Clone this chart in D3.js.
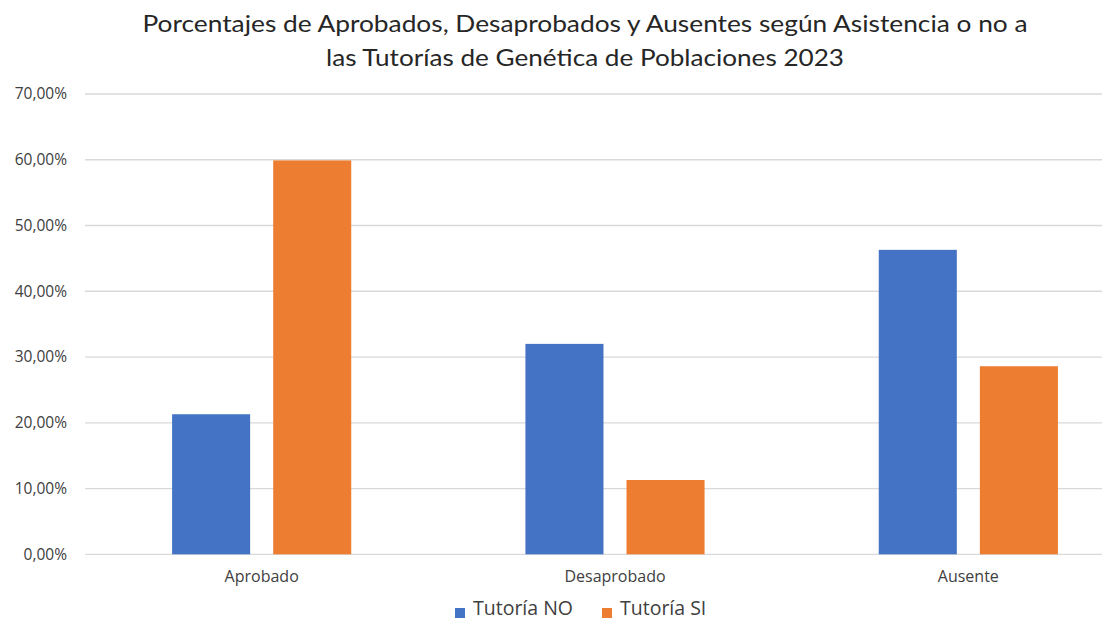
<!DOCTYPE html>
<html>
<head>
<meta charset="utf-8">
<script src="https://cdn.jsdelivr.net/npm/d3@7"></script>
<style>
  html, body { margin: 0; padding: 0; background: #fff; overflow: hidden; }
  svg { display: block; }
</style>
</head>
<body>
<svg id="chart" width="1102" height="621"></svg>
<script>
// Results by attendance to tutorials
const categories = ["Aprobado", "Desaprobado", "Ausente"];
const seriesNames = ["Tutoría NO", "Tutoría SI"];
const tutoriaNO = [0.213, 0.320, 0.463];
const tutoriaSI = [0.599, 0.113, 0.286];
const yTicks = [0, 0.1, 0.2, 0.3, 0.4, 0.5, 0.6, 0.7];
const titleLines = [
  "Porcentajes de Aprobados, Desaprobados y Ausentes según Asistencia o no a",
  "las Tutorías de Genética de Poblaciones 2023"
];
const colors = ["#4472C4", "#ED7D31"];

const svg = d3.select("#chart");
const font = "'Open Sans', Lato, sans-serif";
const titleFont = "Lato, 'Open Sans', sans-serif";

const plot = { left: 85, right: 1145, top: 94, bottom: 554.3 };

const x0 = d3.scaleBand()
  .domain(categories)
  .range([plot.left, plot.right])
  .paddingInner(0.493)
  .paddingOuter(0.2465);

const x1 = d3.scaleBand()
  .domain(seriesNames)
  .range([0, x0.bandwidth()])
  .paddingInner(0.228);

const y = d3.scaleLinear()
  .domain([0, 0.7])
  .range([plot.bottom, plot.top]);

const fmt = v => d3.format(".2f")(v * 100).replace(".", ",") + "%";

// horizontal gridlines
svg.append("g")
  .selectAll("line")
  .data(yTicks)
  .join("line")
  .attr("x1", plot.left)
  .attr("x2", plot.right)
  .attr("y1", d => y(d))
  .attr("y2", d => y(d))
  .attr("stroke", "#d9d9d9")
  .attr("stroke-width", 1.3);

// y axis labels
const yAxis = d3.axisLeft(y).tickValues(yTicks).tickFormat(fmt).tickSize(0).tickPadding(0);
const yg = svg.append("g")
  .attr("transform", `translate(${plot.left - 18},0)`)
  .call(yAxis);
yg.select(".domain").remove();
yg.selectAll("text")
  .attr("font-family", font)
  .attr("font-size", 15.5)
  .attr("fill", "#404040");

// bars
const rows = categories.map((c, i) => ({ cat: c, values: [tutoriaNO[i], tutoriaSI[i]] }));
svg.append("g")
  .selectAll("g")
  .data(rows)
  .join("g")
  .attr("transform", d => `translate(${x0(d.cat)},0)`)
  .selectAll("rect")
  .data(d => d.values.map((v, j) => ({ name: seriesNames[j], v, j })))
  .join("rect")
  .attr("x", d => x1(d.name))
  .attr("width", x1.bandwidth())
  .attr("y", d => y(d.v))
  .attr("height", d => y(0) - y(d.v))
  .attr("fill", d => colors[d.j]);

// category axis
const xAxis = d3.axisBottom(x0).tickSize(0).tickPadding(0);
const xg = svg.append("g")
  .attr("transform", `translate(0,${plot.bottom + 16})`)
  .call(xAxis);
xg.select(".domain").remove();
xg.selectAll("text")
  .attr("font-family", font)
  .attr("font-size", 16)
  .attr("fill", "#404040");

// title
const titleWidths = [885, 518];
svg.append("g")
  .selectAll("text")
  .data(titleLines)
  .join("text")
  .attr("x", 585)
  .attr("y", (d, i) => 32 + i * 34)
  .attr("text-anchor", "middle")
  .attr("font-family", titleFont)
  .attr("font-size", 24)
  .attr("textLength", (d, i) => titleWidths[i])
  .attr("lengthAdjust", "spacingAndGlyphs")
  .attr("fill", "#262626")
  .text(d => d);

// legend
const legendX = [455, 602];
const legend = svg.append("g")
  .selectAll("g")
  .data(seriesNames)
  .join("g")
  .attr("transform", (d, i) => `translate(${legendX[i]},612)`);
legend.append("rect")
  .attr("x", 0).attr("y", -4)
  .attr("width", 10).attr("height", 10)
  .attr("fill", (d, i) => colors[i]);
legend.append("text")
  .attr("x", 18)
  .attr("y", 3)
  .attr("font-family", font)
  .attr("font-size", 19.5)
  .attr("fill", "#404040")
  .text(d => d);
</script>
</body>
</html>
